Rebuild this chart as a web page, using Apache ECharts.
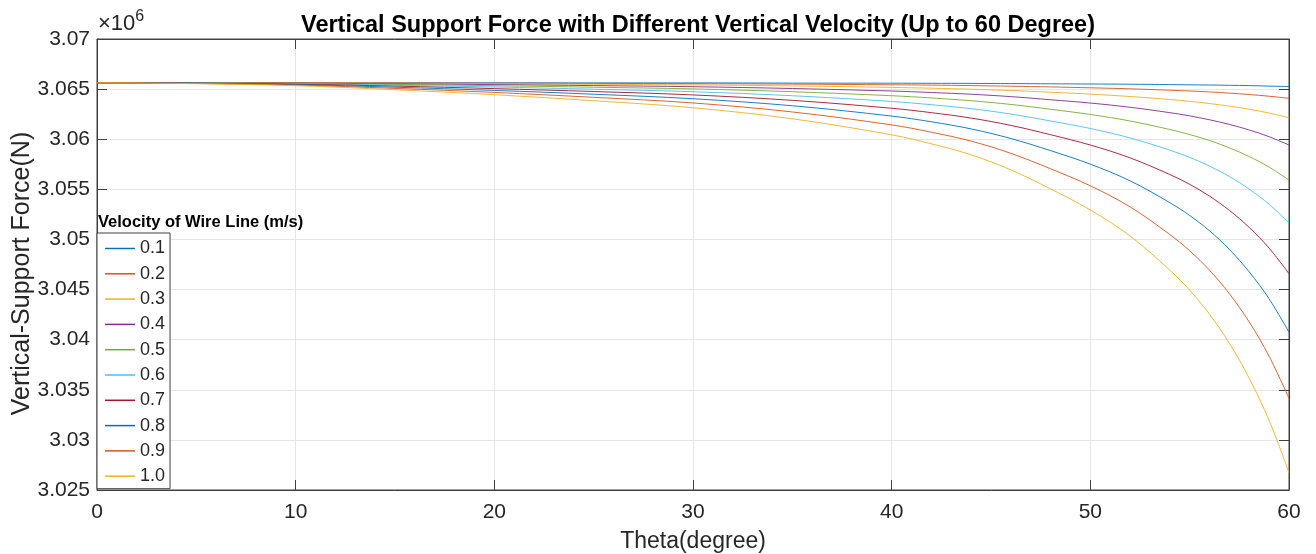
<!DOCTYPE html>
<html>
<head>
<meta charset="utf-8">
<script src="https://cdn.jsdelivr.net/npm/echarts@6/dist/echarts.min.js"></script>
<style>
html,body{margin:0;padding:0;background:#fff;}
#chart{width:1316px;height:554px;}
</style>
</head>
<body>
<div id="chart"></div>
<script>
// Theta (degree) sample points
const theta = [0,5,10,15,20,25,30,35,40,42,44,46,48,50,52,54,55,56,57,58,59,60];
// Velocity labels
const velocities = ['0.1','0.2','0.3','0.4','0.5','0.6','0.7','0.8','0.9','1.0'];
// Vertical support force (N), one array per velocity
const v01 = [3065640,3065640,3065640,3065630,3065630,3065620,3065620,3065600,3065590,3065580,3065570,3065550,3065530,3065510,3065490,3065450,3065430,3065410,3065380,3065350,3065300,3065250];
const v02 = [3065640,3065640,3065630,3065610,3065590,3065570,3065540,3065500,3065430,3065400,3065350,3065290,3065220,3065130,3065030,3064890,3064810,3064720,3064600,3064460,3064290,3064080];
const v03 = [3065640,3065630,3065610,3065580,3065530,3065480,3065420,3065320,3065170,3065090,3064990,3064860,3064690,3064500,3064260,3063960,3063780,3063560,3063300,3062990,3062610,3062140];
const v04 = [3065640,3065620,3065590,3065530,3065450,3065350,3065240,3065060,3064810,3064660,3064490,3064250,3063940,3063610,3063190,3062650,3062330,3061940,3061480,3060920,3060250,3059420];
const v05 = [3065640,3065620,3065570,3065470,3065340,3065190,3065020,3064740,3064340,3064120,3063840,3063470,3062990,3062470,3061820,3060970,3060470,3059870,3059140,3058270,3057220,3055920];
const v06 = [3065640,3065600,3065530,3065390,3065210,3064990,3064740,3064340,3063770,3063440,3063050,3062510,3061820,3061070,3060130,3058910,3058190,3057320,3056280,3055020,3053510,3051640];
const v07 = [3065640,3065590,3065490,3065300,3065050,3064760,3064420,3063880,3063090,3062650,3062110,3061380,3060450,3059420,3058140,3056480,3055500,3054320,3052900,3051190,3049130,3046580];
const v08 = [3065640,3065580,3065450,3065190,3064870,3064490,3064040,3063340,3062310,3061740,3061030,3060070,3058860,3057510,3055850,3053670,3052390,3050860,3049000,3046760,3044070,3040740];
const v09 = [3065640,3065560,3065400,3065070,3064670,3064180,3063620,3062720,3061430,3060700,3059810,3058590,3057050,3055350,3053250,3050490,3048870,3046930,3044580,3041750,3038340,3034130];
const v10 = [3065640,3065540,3065340,3064940,3064440,3063840,3063140,3062040,3060440,3059540,3058440,3056940,3055040,3052940,3050340,3046940,3044940,3042540,3039640,3036140,3031940,3026740];
const seriesValues = [v01,v02,v03,v04,v05,v06,v07,v08,v09,v10];
// Axis ranges
const yMin = 3025000, yMax = 3070000, yStep = 5000;
const xMin = 0, xMax = 60, xStep = 10;

const colors = ['#0072BD','#D95319','#EDB120','#7E2F8E','#77AC30','#4DBEEE','#A2142F','#0072BD','#D95319','#EDB120'];
const axisColor = '#404040';
const textColor = '#262626';
const FONT = 'Liberation Sans, Arial, Helvetica, sans-serif';

const GL = 97, GT = 39, GW = 1192, GH = 451;

const chart = echarts.init(document.getElementById('chart'), null, {renderer:'canvas'});

const series = velocities.map((name, i) => ({
  name: name,
  type: 'line',
  xAxisIndex: 0,
  yAxisIndex: 0,
  data: theta.map((t, k) => [t, seriesValues[i][k]]),
  smooth: 0.35,
  showSymbol: false,
  symbol: 'none',
  lineStyle: {width: 1, color: colors[i], opacity: 0.9},
  itemStyle: {color: colors[i]},
  z: 2
}));

const option = {
  backgroundColor: '#ffffff',
  animation: false,
  textStyle: {fontFamily: FONT},
  title: {
    text: 'Vertical Support Force with Different Vertical Velocity (Up to 60 Degree)',
    left: GL + GW / 2,
    top: 9,
    textAlign: 'center',
    textStyle: {fontFamily: FONT, fontSize: 23.5, fontWeight: 'bold', color: '#000'}
  },
  grid: {
    left: GL, top: GT, width: GW, height: GH,
    outerBoundsMode: 'none',
    containLabel: false,
    show: true, borderColor: axisColor, borderWidth: 1, backgroundColor: '#fff'
  },
  legend: {
    data: velocities,
    orient: 'vertical',
    left: GL,
    top: 233,
    padding: [6, 5, 3, 8],
    itemGap: 6.3,
    itemWidth: 30,
    itemHeight: 1.5,
    icon: 'rect',
    backgroundColor: '#fff',
    borderColor: axisColor,
    borderWidth: 1,
    borderRadius: 0,
    textStyle: {fontFamily: FONT, fontSize: 18, color: textColor, lineHeight: 19, height: 19},
    z: 10
  },
  graphic: [
    {
      type: 'text', left: 98, top: 9, z: 20,
      style: {
        text: '{a|×10}{b|6}',
        rich: {
          a: {fontFamily: FONT, fontSize: 22, fill: textColor, verticalAlign: 'bottom'},
          b: {fontFamily: FONT, fontSize: 16, fill: textColor, verticalAlign: 'top', padding: [0,0,10,0]}
        }
      }
    },
    {
      type: 'text', left: 98, top: 214, z: 20,
      style: {text: 'Velocity of Wire Line (m/s)', fontFamily: FONT, fontSize: 16.5, fontWeight: 'bold', fill: '#000'}
    }
  ],
  xAxis: [
    {
      type: 'value', min: xMin, max: xMax, interval: xStep, position: 'bottom',
      name: 'Theta(degree)', nameLocation: 'middle', nameGap: 40,
      nameTextStyle: {fontFamily: FONT, fontSize: 23, color: textColor},
      axisLine: {show: true, onZero: false, lineStyle: {color: axisColor, width: 1}},
      axisTick: {show: true, inside: true, length: 10, lineStyle: {color: axisColor}},
      axisLabel: {fontFamily: FONT, fontSize: 21, color: textColor, margin: 12},
      splitLine: {show: true, lineStyle: {color: '#e6e6e6', width: 1}}
    },
    {
      type: 'value', min: xMin, max: xMax, interval: xStep, position: 'top',
      axisLine: {show: true, onZero: false, lineStyle: {color: axisColor, width: 1}},
      axisTick: {show: true, inside: true, length: 10, lineStyle: {color: axisColor}},
      axisLabel: {show: false},
      splitLine: {show: false}
    }
  ],
  yAxis: [
    {
      type: 'value', min: yMin, max: yMax, interval: yStep, position: 'left',
      name: 'Vertical-Support Force(N)', nameLocation: 'middle', nameGap: 62,
      nameMoveOverlap: false,
      nameTextStyle: {fontFamily: FONT, fontSize: 25, color: textColor, padding: [0, 18, 0, 0]},
      axisLine: {show: true, onZero: false, lineStyle: {color: axisColor, width: 1}},
      axisTick: {show: true, inside: true, length: 10, lineStyle: {color: axisColor}},
      axisLabel: {
        fontFamily: FONT, fontSize: 21, color: textColor, margin: 7,
        formatter: v => String(+(v / 1e6).toFixed(3))
      },
      splitLine: {show: true, lineStyle: {color: '#e6e6e6', width: 1}}
    },
    {
      type: 'value', min: yMin, max: yMax, interval: yStep, position: 'right',
      axisLine: {show: true, onZero: false, lineStyle: {color: axisColor, width: 1}},
      axisTick: {show: true, inside: true, length: 10, lineStyle: {color: axisColor}},
      axisLabel: {show: false},
      splitLine: {show: false}
    }
  ],
  series: series
};

chart.setOption(option);
</script>
</body>
</html>
